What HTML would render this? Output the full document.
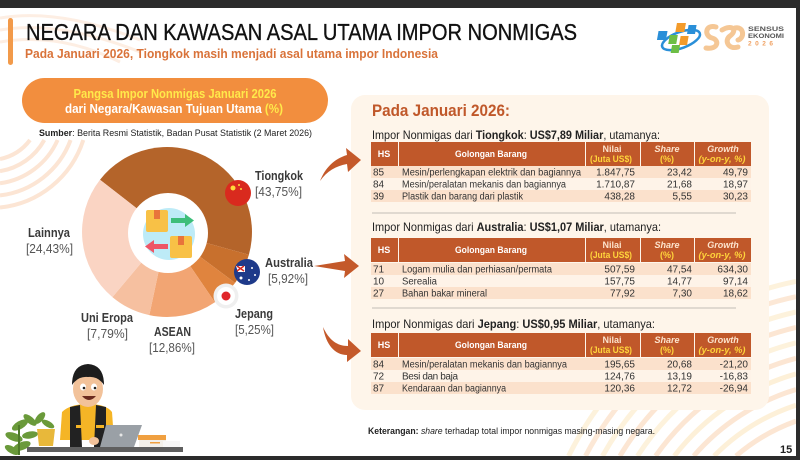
<!DOCTYPE html>
<html>
<head>
<meta charset="utf-8">
<style>
html,body{margin:0;padding:0;background:#fff;width:800px;height:460px;overflow:hidden;}
svg{display:block;}
text{font-family:"Liberation Sans",sans-serif;}
</style>
</head>
<body>
<svg width="800" height="460" viewBox="0 0 800 460" xmlns="http://www.w3.org/2000/svg">
  <rect x="0" y="0" width="800" height="460" fill="#ffffff"/>

  <!-- background waves -->
  <g fill="none" stroke="#FCE5D4" stroke-width="4">
    <path d="M30,140 A50,50 0 0 1 0,159"/>
    <path d="M44.3,140 A62,62 0 0 1 0,171.2"/>
    <path d="M57.6,140 A74,74 0 0 1 0,183.3"/>
    <path d="M70.6,140 A86,86 0 0 1 0,195.4"/>
    <path d="M83.3,140 A98,98 0 0 1 0,207.5"/>
  </g>
  <g fill="none" stroke="#FDEEE3" stroke-width="3">
    <path d="M0,18 Q60,8 140,40"/>
    <path d="M0,30 Q60,20 140,52"/>
    <path d="M0,42 Q60,32 120,62"/>
  </g>
  <g fill="none" stroke-width="5">
    <path d="M736.0,456 A190,190 0 0 1 796,421.1" stroke="#FCE6D3"/>
    <path d="M714.1,456 A205,205 0 0 1 796,405.2" stroke="#FDF0D8"/>
    <path d="M693.7,456 A220,220 0 0 1 796,389.5" stroke="#FCE6D3"/>
    <path d="M674.3,456 A235,235 0 0 1 796,373.9" stroke="#FDF0D8"/>
    <path d="M655.6,456 A250,250 0 0 1 796,358.3" stroke="#FCE6D3"/>
    <path d="M637.5,456 A265,265 0 0 1 796,342.8" stroke="#FDF2DC"/>
    <path d="M619.9,456 A280,280 0 0 1 796,327.4" stroke="#FCE6D3"/>
    <path d="M602.5,456 A295,295 0 0 1 796,312.0" stroke="#FDF2DC"/>
    <path d="M585.5,456 A310,310 0 0 1 796,296.7" stroke="#FCE8D6"/>
    <path d="M568.6,456 A325,325 0 0 1 796,281.4" stroke="#FDF2DC"/>
  </g>

  <!-- frame -->
  <rect x="0" y="0" width="800" height="8" fill="#2b2b2b"/>
  <rect x="0" y="456" width="800" height="4" fill="#2b2b2b"/>
  <rect x="796" y="0" width="4" height="460" fill="#2b2b2b"/>

  <!-- left accent -->
  <rect x="8" y="18" width="5" height="47" rx="2.5" fill="#F29A4A"/>

  <!-- title -->
  <text x="26" y="40" font-size="23" textLength="551" lengthAdjust="spacingAndGlyphs" fill="#111" stroke="#111" stroke-width="0.35">NEGARA DAN KAWASAN ASAL UTAMA IMPOR NONMIGAS</text>
  <text x="25" y="58" font-size="13" font-weight="bold" textLength="413" lengthAdjust="spacingAndGlyphs" fill="#D9733A">Pada Januari 2026, Tiongkok masih menjadi asal utama impor Indonesia</text>

  <!-- logo BPS -->
  <g>
    <ellipse cx="681" cy="40" rx="20" ry="8" fill="none" stroke="#2A8FD8" stroke-width="2.5" transform="rotate(-20 681 40)"/>
    <rect x="664" y="31" width="9" height="9" fill="#2A8FD8" transform="skewX(-10)"/>
    <rect x="681" y="23" width="9" height="9" fill="#F39B2B" transform="skewX(-10)"/>
    <rect x="693" y="25" width="8" height="9" fill="#2A8FD8" transform="skewX(-10)"/>
    <rect x="676" y="35" width="8" height="9" fill="#6DBE45" transform="skewX(-10)"/>
    <rect x="687" y="36" width="8" height="9" fill="#F39B2B" transform="skewX(-10)"/>
    <rect x="680" y="45" width="8" height="8" fill="#6DBE45" transform="skewX(-10)"/>
  </g>
  <!-- SE26 squiggle -->
  <g fill="none" stroke="#F5C795" stroke-width="5" stroke-linecap="round">
    <path d="M716,27 C705,24 704,36 712,38 C720,40 718,50 706,48"/>
    <path d="M722,30 C732,24 738,30 730,36 C724,40 728,50 738,47"/>
    <path d="M735,28 C744,26 745,38 738,40"/>
  </g>
  <text x="748" y="31" font-size="6.5" font-weight="bold" fill="#555" textLength="36" lengthAdjust="spacingAndGlyphs">SENSUS</text>
  <text x="748" y="38" font-size="6.5" font-weight="bold" fill="#555" textLength="36" lengthAdjust="spacingAndGlyphs">EKONOMI</text>
  <text x="748" y="45.5" font-size="6.5" font-weight="bold" fill="#F0A060" textLength="25" lengthAdjust="spacing">2026</text>

  <!-- left pill -->
  <rect x="22" y="78" width="306" height="45" rx="22.5" fill="#F28E3E"/>
  <text x="175" y="98" font-size="12.5" font-weight="bold" fill="#FFE94A" text-anchor="middle" textLength="203" lengthAdjust="spacingAndGlyphs">Pangsa Impor Nonmigas Januari 2026</text>
  <text x="174" y="113" font-size="12.5" font-weight="bold" fill="#ffffff" text-anchor="middle" textLength="218" lengthAdjust="spacingAndGlyphs">dari Negara/Kawasan Tujuan Utama <tspan fill="#FFE94A">(%)</tspan></text>
  <text x="39" y="136" font-size="9.5" fill="#222" textLength="273" lengthAdjust="spacingAndGlyphs"><tspan font-weight="bold">Sumber</tspan>: Berita Resmi Statistik, Badan Pusat Statistik (2 Maret 2026)</text>

  <!-- donut -->
  <g>
    <path d="M167,232 L100.0,179.7 A85,85 0 0 1 248.9,254.7 Z" fill="#B4642A"/>
    <path d="M167,232 L248.9,254.7 A85,85 0 0 1 235.1,282.9 Z" fill="#C8702D"/>
    <path d="M167,232 L235.1,282.9 A85,85 0 0 1 214.9,302.2 Z" fill="#E0843E"/>
    <path d="M167,232 L214.9,302.2 A85,85 0 0 1 149.3,315.1 Z" fill="#F2A573"/>
    <path d="M167,232 L149.3,315.1 A85,85 0 0 1 112.4,297.1 Z" fill="#F6C0A0"/>
    <path d="M167,232 L112.4,297.1 A85,85 0 0 1 100.0,179.7 Z" fill="#FAD4C3"/>
    <circle cx="168" cy="233" r="40" fill="#ffffff"/>
    <circle cx="169" cy="234" r="26" fill="#BDEBF7"/>
    <rect x="146" y="210" width="22" height="22" rx="2" fill="#F8C146"/>
    <rect x="154" y="210" width="6" height="9" fill="#E8743B"/>
    <rect x="170" y="236" width="22" height="22" rx="2" fill="#F8C146"/>
    <rect x="178" y="236" width="6" height="9" fill="#E8743B"/>
    <path d="M171,218 L185,218 L185,214 L194,220.5 L185,227 L185,223 L171,223 Z" fill="#3DBE7A"/>
    <path d="M168,244 L154,244 L154,240 L145,246.5 L154,253 L154,249 L168,249 Z" fill="#EE5566"/>
  </g>
  <!-- flags -->
  <circle cx="238" cy="193" r="13" fill="#D92A1E"/>
  <circle cx="233" cy="188" r="2.5" fill="#FFD93B"/>
  <circle cx="239" cy="185" r="1" fill="#FFD93B"/>
  <circle cx="241" cy="189" r="1" fill="#FFD93B"/>
  <circle cx="247" cy="272" r="13" fill="#1E3A8A"/>
  <path d="M236,266 L245,266 L245,272 L238,272 Z" fill="#ffffff"/>
  <path d="M237,266 L244,271 M244,266 L237,271" stroke="#D92A1E" stroke-width="1.5"/>
  <circle cx="252" cy="268" r="1" fill="#fff"/>
  <circle cx="255" cy="275" r="1" fill="#fff"/>
  <circle cx="249" cy="280" r="1" fill="#fff"/>
  <circle cx="241" cy="278" r="1.5" fill="#fff"/>
  <circle cx="226" cy="296" r="12.5" fill="#EFEFEF"/>
  <circle cx="226" cy="296" r="9" fill="#ffffff"/>
  <circle cx="226" cy="296" r="4.5" fill="#E0262A"/>

  <!-- labels -->
  <g font-size="12.5" fill="#3a3a3a">
    <text x="255" y="180" font-weight="bold" textLength="48" lengthAdjust="spacingAndGlyphs">Tiongkok</text>
    <text x="255" y="196" fill="#555" textLength="47" lengthAdjust="spacingAndGlyphs">[43,75%]</text>
    <text x="28" y="237" font-weight="bold" textLength="42" lengthAdjust="spacingAndGlyphs">Lainnya</text>
    <text x="26" y="253" fill="#555" textLength="47" lengthAdjust="spacingAndGlyphs">[24,43%]</text>
    <text x="265" y="267" font-weight="bold" textLength="48" lengthAdjust="spacingAndGlyphs">Australia</text>
    <text x="268" y="283" fill="#555" textLength="40" lengthAdjust="spacingAndGlyphs">[5,92%]</text>
    <text x="235" y="318" font-weight="bold" textLength="38" lengthAdjust="spacingAndGlyphs">Jepang</text>
    <text x="235" y="334" fill="#555" textLength="39" lengthAdjust="spacingAndGlyphs">[5,25%]</text>
    <text x="81" y="322" font-weight="bold" textLength="52" lengthAdjust="spacingAndGlyphs">Uni Eropa</text>
    <text x="87" y="338" fill="#555" textLength="41" lengthAdjust="spacingAndGlyphs">[7,79%]</text>
    <text x="154" y="336" font-weight="bold" textLength="37" lengthAdjust="spacingAndGlyphs">ASEAN</text>
    <text x="149" y="352" fill="#555" textLength="46" lengthAdjust="spacingAndGlyphs">[12,86%]</text>
  </g>

  <!-- right panel -->
  <rect x="351" y="95" width="418" height="315" rx="14" fill="#FEF5EA"/>
  <text x="372" y="116" font-size="17" font-weight="bold" fill="#C0582A" textLength="138" lengthAdjust="spacingAndGlyphs">Pada Januari 2026:</text>

  <!-- arrows to tables -->
  <g fill="#C4592A">
    <path d="M320,181 C325,168 334,159 347,155 L346,148 L361,160 L348,172 L347,164 C336,166 327,171 320,181 Z"/>
    <path d="M314,266 L345,261 L344,254 L359,266 L344,278 L345,271 Z"/>
    <path d="M323,327 C329,340 337,346 348,346 L348,339 L361,351 L347,362 L347,355 C335,355 326,345 323,327 Z"/>
  </g>

  <!-- table 1 -->
  <text x="372" y="139" font-size="12" fill="#222" textLength="288" lengthAdjust="spacingAndGlyphs">Impor Nonmigas dari <tspan font-weight="bold">Tiongkok</tspan>: <tspan font-weight="bold">US$7,89 Miliar</tspan>, utamanya:</text>
  <g>
    <rect x="371" y="142" width="27" height="24" fill="#C0582A"/>
    <rect x="399" y="142" width="186" height="24" fill="#C0582A"/>
    <rect x="586" y="142" width="54" height="24" fill="#C0582A"/>
    <rect x="641" y="142" width="53" height="24" fill="#C0582A"/>
    <rect x="695" y="142" width="56" height="24" fill="#C0582A"/>
    <text x="384" y="157" font-size="9" font-weight="bold" fill="#fff" text-anchor="middle">HS</text>
    <text x="491" y="157" font-size="9.5" font-weight="bold" fill="#fff" text-anchor="middle" textLength="72" lengthAdjust="spacingAndGlyphs">Golongan Barang</text>
    <text x="612" y="152" font-size="9" font-weight="bold" fill="#FCE3CC" text-anchor="middle">Nilai</text>
    <text x="611" y="162" font-size="9" font-weight="bold" fill="#FFD43B" text-anchor="middle" textLength="42" lengthAdjust="spacingAndGlyphs">(Juta US$)</text>
    <text x="667" y="152" font-size="9" font-weight="bold" font-style="italic" fill="#FCE3CC" text-anchor="middle">Share</text>
    <text x="667" y="162" font-size="9" font-weight="bold" fill="#FFD43B" text-anchor="middle">(%)</text>
    <text x="723" y="152" font-size="9" font-weight="bold" font-style="italic" fill="#FCE3CC" text-anchor="middle">Growth</text>
    <text x="722" y="162" font-size="9" font-weight="bold" font-style="italic" fill="#FFD43B" text-anchor="middle" textLength="47" lengthAdjust="spacingAndGlyphs">(y-on-y, %)</text>
    <rect x="371" y="166" width="380" height="12" fill="#FBE1CC"/>
    <rect x="371" y="178" width="380" height="12" fill="#FEF3E8"/>
    <rect x="371" y="190" width="380" height="12" fill="#FBE1CC"/>
    <g font-size="10" fill="#333">
      <text x="373" y="175.5">85</text>
      <text x="402" y="175.5" textLength="179" lengthAdjust="spacingAndGlyphs">Mesin/perlengkapan elektrik dan bagiannya</text>
      <text x="635" y="175.5" text-anchor="end">1.847,75</text>
      <text x="692" y="175.5" text-anchor="end">23,42</text>
      <text x="748" y="175.5" text-anchor="end">49,79</text>
      <text x="373" y="187.5">84</text>
      <text x="402" y="187.5" textLength="164" lengthAdjust="spacingAndGlyphs">Mesin/peralatan mekanis dan bagiannya</text>
      <text x="635" y="187.5" text-anchor="end">1.710,87</text>
      <text x="692" y="187.5" text-anchor="end">21,68</text>
      <text x="748" y="187.5" text-anchor="end">18,97</text>
      <text x="373" y="199.5">39</text>
      <text x="402" y="199.5" textLength="121" lengthAdjust="spacingAndGlyphs">Plastik dan barang dari plastik</text>
      <text x="635" y="199.5" text-anchor="end">438,28</text>
      <text x="692" y="199.5" text-anchor="end">5,55</text>
      <text x="748" y="199.5" text-anchor="end">30,23</text>
    </g>
  </g>
  <line x1="372" y1="213" x2="736" y2="213" stroke="#D6D0C8" stroke-width="1.5"/>

  <!-- table 2 -->
  <text x="372" y="231" font-size="12" fill="#222" textLength="289" lengthAdjust="spacingAndGlyphs">Impor Nonmigas dari <tspan font-weight="bold">Australia</tspan>: <tspan font-weight="bold">US$1,07 Miliar</tspan>, utamanya:</text>
  <g>
    <rect x="371" y="238" width="27" height="24" fill="#C0582A"/>
    <rect x="399" y="238" width="186" height="24" fill="#C0582A"/>
    <rect x="586" y="238" width="54" height="24" fill="#C0582A"/>
    <rect x="641" y="238" width="53" height="24" fill="#C0582A"/>
    <rect x="695" y="238" width="56" height="24" fill="#C0582A"/>
    <text x="384" y="253" font-size="9" font-weight="bold" fill="#fff" text-anchor="middle">HS</text>
    <text x="491" y="253" font-size="9.5" font-weight="bold" fill="#fff" text-anchor="middle" textLength="72" lengthAdjust="spacingAndGlyphs">Golongan Barang</text>
    <text x="612" y="248" font-size="9" font-weight="bold" fill="#FCE3CC" text-anchor="middle">Nilai</text>
    <text x="611" y="258" font-size="9" font-weight="bold" fill="#FFD43B" text-anchor="middle" textLength="42" lengthAdjust="spacingAndGlyphs">(Juta US$)</text>
    <text x="667" y="248" font-size="9" font-weight="bold" font-style="italic" fill="#FCE3CC" text-anchor="middle">Share</text>
    <text x="667" y="258" font-size="9" font-weight="bold" fill="#FFD43B" text-anchor="middle">(%)</text>
    <text x="723" y="248" font-size="9" font-weight="bold" font-style="italic" fill="#FCE3CC" text-anchor="middle">Growth</text>
    <text x="722" y="258" font-size="9" font-weight="bold" font-style="italic" fill="#FFD43B" text-anchor="middle" textLength="47" lengthAdjust="spacingAndGlyphs">(y-on-y, %)</text>
    <rect x="371" y="263" width="380" height="12" fill="#FBE1CC"/>
    <rect x="371" y="275" width="380" height="12" fill="#FEF3E8"/>
    <rect x="371" y="287" width="380" height="12" fill="#FBE1CC"/>
    <g font-size="10" fill="#333">
      <text x="373" y="272.5">71</text>
      <text x="402" y="272.5" textLength="150" lengthAdjust="spacingAndGlyphs">Logam mulia dan perhiasan/permata</text>
      <text x="635" y="272.5" text-anchor="end">507,59</text>
      <text x="692" y="272.5" text-anchor="end">47,54</text>
      <text x="748" y="272.5" text-anchor="end">634,30</text>
      <text x="373" y="284.5">10</text>
      <text x="402" y="284.5" textLength="35" lengthAdjust="spacingAndGlyphs">Serealia</text>
      <text x="635" y="284.5" text-anchor="end">157,75</text>
      <text x="692" y="284.5" text-anchor="end">14,77</text>
      <text x="748" y="284.5" text-anchor="end">97,14</text>
      <text x="373" y="296.5">27</text>
      <text x="402" y="296.5" textLength="85" lengthAdjust="spacingAndGlyphs">Bahan bakar mineral</text>
      <text x="635" y="296.5" text-anchor="end">77,92</text>
      <text x="692" y="296.5" text-anchor="end">7,30</text>
      <text x="748" y="296.5" text-anchor="end">18,62</text>
    </g>
  </g>
  <line x1="372" y1="308" x2="736" y2="308" stroke="#D6D0C8" stroke-width="1.5"/>

  <!-- table 3 -->
  <text x="372" y="328" font-size="12" fill="#222" textLength="283" lengthAdjust="spacingAndGlyphs">Impor Nonmigas dari <tspan font-weight="bold">Jepang</tspan>: <tspan font-weight="bold">US$0,95 Miliar</tspan>, utamanya:</text>
  <g>
    <rect x="371" y="333" width="27" height="24" fill="#C0582A"/>
    <rect x="399" y="333" width="186" height="24" fill="#C0582A"/>
    <rect x="586" y="333" width="54" height="24" fill="#C0582A"/>
    <rect x="641" y="333" width="53" height="24" fill="#C0582A"/>
    <rect x="695" y="333" width="56" height="24" fill="#C0582A"/>
    <text x="384" y="348" font-size="9" font-weight="bold" fill="#fff" text-anchor="middle">HS</text>
    <text x="491" y="348" font-size="9.5" font-weight="bold" fill="#fff" text-anchor="middle" textLength="72" lengthAdjust="spacingAndGlyphs">Golongan Barang</text>
    <text x="612" y="343" font-size="9" font-weight="bold" fill="#FCE3CC" text-anchor="middle">Nilai</text>
    <text x="611" y="353" font-size="9" font-weight="bold" fill="#FFD43B" text-anchor="middle" textLength="42" lengthAdjust="spacingAndGlyphs">(Juta US$)</text>
    <text x="667" y="343" font-size="9" font-weight="bold" font-style="italic" fill="#FCE3CC" text-anchor="middle">Share</text>
    <text x="667" y="353" font-size="9" font-weight="bold" fill="#FFD43B" text-anchor="middle">(%)</text>
    <text x="723" y="343" font-size="9" font-weight="bold" font-style="italic" fill="#FCE3CC" text-anchor="middle">Growth</text>
    <text x="722" y="353" font-size="9" font-weight="bold" font-style="italic" fill="#FFD43B" text-anchor="middle" textLength="47" lengthAdjust="spacingAndGlyphs">(y-on-y, %)</text>
    <rect x="371" y="358" width="380" height="12" fill="#FBE1CC"/>
    <rect x="371" y="370" width="380" height="12" fill="#FEF3E8"/>
    <rect x="371" y="382" width="380" height="12" fill="#FBE1CC"/>
    <g font-size="10" fill="#333">
      <text x="373" y="367.5">84</text>
      <text x="402" y="367.5" textLength="165" lengthAdjust="spacingAndGlyphs">Mesin/peralatan mekanis dan bagiannya</text>
      <text x="635" y="367.5" text-anchor="end">195,65</text>
      <text x="692" y="367.5" text-anchor="end">20,68</text>
      <text x="748" y="367.5" text-anchor="end">-21,20</text>
      <text x="373" y="379.5">72</text>
      <text x="402" y="379.5" textLength="56" lengthAdjust="spacing">Besi dan baja</text>
      <text x="635" y="379.5" text-anchor="end">124,76</text>
      <text x="692" y="379.5" text-anchor="end">13,19</text>
      <text x="748" y="379.5" text-anchor="end">-16,83</text>
      <text x="373" y="391.5">87</text>
      <text x="402" y="391.5" textLength="104" lengthAdjust="spacingAndGlyphs">Kendaraan dan bagiannya</text>
      <text x="635" y="391.5" text-anchor="end">120,36</text>
      <text x="692" y="391.5" text-anchor="end">12,72</text>
      <text x="748" y="391.5" text-anchor="end">-26,94</text>
    </g>
  </g>

  <text x="368" y="434" font-size="9.5" fill="#222" textLength="287" lengthAdjust="spacingAndGlyphs"><tspan font-weight="bold">Keterangan:</tspan> <tspan font-style="italic">share</tspan> terhadap total impor nonmigas masing-masing negara.</text>
  <text x="780" y="453" font-size="11" font-weight="bold" fill="#222">15</text>

  <!-- character illustration -->
  <g>
    <g fill="#6A9A3A">
      <ellipse cx="20" cy="425" rx="9" ry="4" transform="rotate(-30 20 425)"/>
      <ellipse cx="30" cy="420" rx="8" ry="3.5" transform="rotate(40 30 420)"/>
      <ellipse cx="14" cy="437" rx="9" ry="4" transform="rotate(20 14 437)"/>
      <ellipse cx="40" cy="418" rx="7" ry="3.5" transform="rotate(-50 40 418)"/>
      <ellipse cx="22" cy="446" rx="9" ry="4" transform="rotate(-20 22 446)"/>
      <ellipse cx="12" cy="450" rx="8" ry="3.5" transform="rotate(30 12 450)"/>
      <ellipse cx="30" cy="435" rx="8" ry="3.5" transform="rotate(-10 30 435)"/>
      <ellipse cx="48" cy="424" rx="7" ry="3" transform="rotate(30 48 424)"/>
      <rect x="18" y="425" width="2" height="30" fill="#4E7A2A"/>
    </g>
    <path d="M37,429 L55,429 L53,446 L39,446 Z" fill="#E8B83A"/>
    <path d="M62,412 Q70,404 88,404 Q106,404 112,412 L114,440 L60,440 Z" fill="#F5B526"/>
    <path d="M70,407 L80,405 L82,447 L70,447 Z M96,405 L106,407 L106,447 L94,447 Z" fill="#222"/>
    <rect x="76" y="425" width="8" height="3" fill="#F5B526"/>
    <rect x="96" y="425" width="8" height="3" fill="#F5B526"/>
    <ellipse cx="88" cy="389" rx="15" ry="18" fill="#F2C29A"/>
    <path d="M72,385 Q72,365 88,364 Q104,365 104,385 Q98,376 88,377 Q78,376 72,385 Z" fill="#1d1d1d"/>
    <ellipse cx="83" cy="387" rx="3" ry="3.5" fill="#fff"/>
    <ellipse cx="94" cy="387" rx="3" ry="3.5" fill="#fff"/>
    <circle cx="84" cy="388" r="1.3" fill="#222"/>
    <circle cx="95" cy="388" r="1.3" fill="#222"/>
    <path d="M82,396 Q89,404 96,396 Z" fill="#6b2b1f"/>
    <ellipse cx="94" cy="441" rx="5" ry="4" fill="#F2C29A"/>
    <path d="M106,425 L142,425 L134,447 L100,447 Z" fill="#9AA0A6"/>
    <circle cx="121" cy="435" r="1.5" fill="#e6e6e6"/>
    <rect x="138" y="435" width="28" height="5" fill="#F0A040"/>
    <rect x="139" y="440" width="27" height="7" fill="#F3F0EA"/>
    <rect x="150" y="442" width="10" height="1.5" fill="#F0A040"/>
    <rect x="163" y="441" width="17" height="6" fill="#F7F7F7"/>
    <rect x="27" y="447" width="156" height="5" fill="#5F5F5F"/>
  </g>
</svg>
</body>
</html>
